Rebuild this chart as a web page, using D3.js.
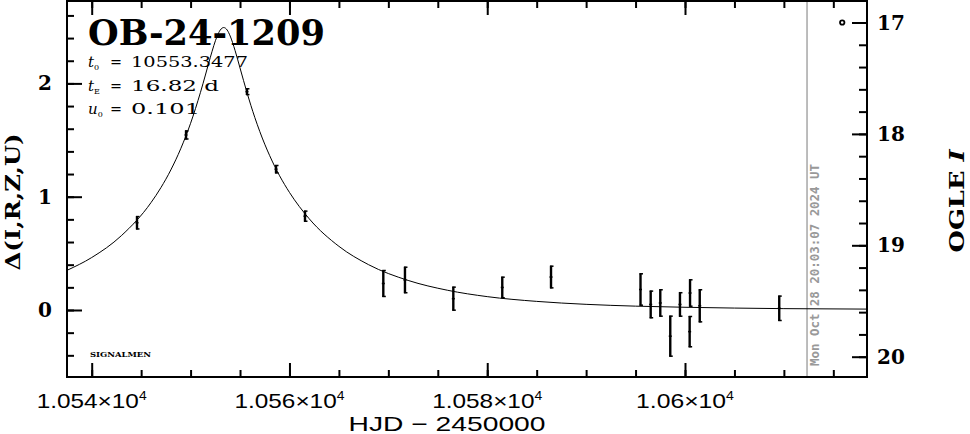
<!DOCTYPE html>
<html><head><meta charset="utf-8">
<script src="https://cdn.jsdelivr.net/npm/d3@7"></script>
<style>body{margin:0;background:#fff;} svg{display:block;}</style>
</head><body><svg id="c" width="970" height="434"></svg>
<script>
// ---- data ----
const hjd = [10544.58, 10549.54, 10555.70, 10558.64, 10561.57, 10569.49, 10571.68, 10576.57, 10581.52, 10586.45,
             10595.50, 10596.53, 10597.50, 10598.51, 10599.49, 10600.51, 10600.47, 10601.49, 10609.53];
const delta = [0.77, 1.545, 1.927, 1.243, 0.828, 0.234, 0.265, 0.10, 0.199, 0.291,
               0.181, 0.049, 0.062, -0.231, 0.049, 0.15, -0.191, 0.037, 0.015];
const deltaErr = [0.059, 0.04, 0.03, 0.037, 0.049, 0.119, 0.117, 0.106, 0.095, 0.10,
                  0.143, 0.122, 0.121, 0.181, 0.108, 0.121, 0.138, 0.146, 0.112];
const modelT = [10537.5, 10540, 10543, 10546, 10547, 10548, 10549, 10550, 10551, 10551.5, 10552, 10552.7, 10553,
                10553.35, 10553.7, 10554, 10554.5, 10555, 10555.7, 10556.5, 10557, 10558, 10559, 10560, 10562,
                10565, 10568, 10572, 10576, 10580, 10585, 10590, 10595, 10600, 10605, 10610, 10618.4];
const modelDelta = [0.350, 0.463, 0.656, 0.948, 1.080, 1.236, 1.423, 1.648, 1.921, 2.074, 2.231, 2.420, 2.471,
                    2.493, 2.471, 2.419, 2.290, 2.136, 1.920, 1.698, 1.575, 1.362, 1.185, 1.038, 0.805,
                    0.562, 0.400, 0.261, 0.174, 0.118, 0.076, 0.050, 0.034, 0.024, 0.017, 0.012, 0.008];
const baseMarkT = [10615.9];
const baseMarkMag = [17.0];
const nowHJD = 10612.34;
const nowLabel = "Mon Oct 28 20:03:07 2024 UT";
const xMajor = [10540, 10560, 10580, 10600];
const xMajorLabels = ["1.054", "1.056", "1.058", "1.06"];
const xMinor = [10540,10545,10550,10555,10560,10565,10570,10575,10580,10585,10590,10595,10600,10605,10610,10615];
const yMajor = [0, 1, 2];
const yMajorLabels = ["0", "1", "2"];
const yMinor = [-0.4,-0.2,0,0.2,0.4,0.6,0.8,1,1.2,1.4,1.6,1.8,2,2.2,2.4,2.6];
const magMajor = [17, 18, 19, 20];
const magMajorLabels = ["17", "18", "19", "20"];
const magMinor = [17,17.2,17.4,17.6,17.8,18,18.2,18.4,18.6,18.8,19,19.2,19.4,19.6,19.8,20];
const eventName = "OB-24-1209";
const paramNames = [["t", "0"], ["t", "E"], ["u", "0"]];
const paramValues = ["10553.3477", "16.82 d", "0.101"];

// ---- layout ----
const L = 67, R = 867, T = 1, B = 377;
const x = d3.scaleLinear().domain([10540, 10600]).range([91.7, 685]);
const y = d3.scaleLinear().domain([0, 2]).range([310, 83.4]);
const ym = d3.scaleLinear().domain([17, 20]).range([22.5, 356.7]);

const svg = d3.select("#c");
svg.append("rect").attr("width", 970).attr("height", 434).attr("fill", "#fff");

svg.append("defs").append("clipPath").attr("id", "clip")
  .append("rect").attr("x", L).attr("y", T).attr("width", R - L).attr("height", B - T);

// ticks via d3 axes (inward)
function axisG(axis, tx, ty) {
  const g = svg.append("g").attr("transform", `translate(${tx},${ty})`).call(axis);
  g.select(".domain").remove();
  g.selectAll("line").attr("stroke", "#000").attr("stroke-width", 2);
  g.selectAll("text").remove();
  return g;
}
axisG(d3.axisTop(x).tickValues(xMinor).tickSize(7), 0, B);
axisG(d3.axisTop(x).tickValues(xMajor).tickSize(14), 0, B);
axisG(d3.axisBottom(x).tickValues(xMinor).tickSize(7), 0, T);
axisG(d3.axisBottom(x).tickValues(xMajor).tickSize(14), 0, T);
axisG(d3.axisRight(y).tickValues(yMinor).tickSize(7), L, 0);
axisG(d3.axisRight(y).tickValues(yMajor).tickSize(15), L, 0);
axisG(d3.axisLeft(ym).tickValues(magMinor).tickSize(8), R, 0);
axisG(d3.axisLeft(ym).tickValues(magMajor).tickSize(15), R, 0);

// now line
svg.append("line").attr("x1", x(nowHJD)).attr("x2", x(nowHJD)).attr("y1", T).attr("y2", B)
  .attr("stroke", "#999").attr("stroke-width", 1.3);
svg.append("text").attr("transform", `translate(${x(nowHJD) + 12},${B - 11}) rotate(-90)`)
  .attr("font-family", "DejaVu Sans Mono, monospace").attr("font-weight", "bold")
  .attr("font-size", 11.5).attr("fill", "#999").attr("textLength", 202).attr("lengthAdjust", "spacingAndGlyphs")
  .text(nowLabel);

// model curve
const plot = svg.append("g").attr("clip-path", "url(#clip)");
const line = d3.line().x((d, i) => x(modelT[i])).y((d, i) => y(modelDelta[i])).curve(d3.curveMonotoneX);
plot.append("path").datum(modelT).attr("d", line).attr("fill", "none").attr("stroke", "#000").attr("stroke-width", 1);

// error bars
const pts = plot.append("g");
hjd.forEach((t, i) => {
  const cx = x(t), y1 = y(delta[i] + deltaErr[i]), y2 = y(delta[i] - deltaErr[i]), yc = y(delta[i]);
  pts.append("line").attr("x1", cx).attr("x2", cx).attr("y1", y1).attr("y2", y2).attr("stroke", "#000").attr("stroke-width", 2.4);
  pts.append("line").attr("x1", cx - 1).attr("x2", cx + 2.5).attr("y1", y1 + 0.5).attr("y2", y1 + 0.5).attr("stroke", "#000").attr("stroke-width", 1.5);
  pts.append("line").attr("x1", cx - 1).attr("x2", cx + 2.5).attr("y1", y2 - 0.5).attr("y2", y2 - 0.5).attr("stroke", "#000").attr("stroke-width", 1.5);
  pts.append("line").attr("x1", cx - 1.5).attr("x2", cx + 1.5).attr("y1", yc).attr("y2", yc).attr("stroke", "#000").attr("stroke-width", 1.5);
});

// baseline marker
svg.append("circle").attr("cx", x(baseMarkT[0])).attr("cy", ym(baseMarkMag[0])).attr("r", 2.2)
  .attr("fill", "none").attr("stroke", "#000").attr("stroke-width", 1.8);

// frame
svg.append("rect").attr("x", L).attr("y", T).attr("width", R - L).attr("height", B - T)
  .attr("fill", "none").attr("stroke", "#000").attr("stroke-width", 2);

// title & params
const serif = "DejaVu Serif, serif";
svg.append("text").attr("x", 88).attr("y", 45).attr("font-family", serif).attr("font-weight", "bold")
  .attr("font-size", 35).attr("textLength", 237).attr("lengthAdjust", "spacingAndGlyphs").text(eventName);
const paramY = [67, 91, 114];
const paramW = [117, 88, 69];
paramNames.forEach((nm, i) => {
  const t = svg.append("text").attr("x", 88).attr("y", paramY[i]).attr("font-family", serif).attr("font-size", 15);
  t.append("tspan").attr("font-style", "italic").text(nm[0]);
  t.append("tspan").attr("font-size", 8).attr("dy", 3).text(nm[1]);
  svg.append("text").attr("x", 110).attr("y", paramY[i]).attr("font-family", serif).attr("font-size", 15)
    .attr("textLength", 12).attr("lengthAdjust", "spacingAndGlyphs").text("=");
  svg.append("text").attr("x", 131).attr("y", paramY[i]).attr("font-family", serif).attr("font-size", 15)
    .attr("textLength", paramW[i]).attr("lengthAdjust", "spacingAndGlyphs").text(paramValues[i]);
});

svg.append("text").attr("x", 90).attr("y", 357).attr("font-family", serif).attr("font-weight", "bold")
  .attr("font-size", 8).attr("textLength", 61).attr("lengthAdjust", "spacingAndGlyphs").text("SIGNALMEN");

// tick labels
const lab = svg.append("g").attr("font-family", serif).attr("font-weight", "bold").attr("font-size", 20);
yMajor.forEach((v, i) => lab.append("text").attr("x", 45).attr("y", y(v) + 7).attr("text-anchor", "middle").text(yMajorLabels[i]));
magMajor.forEach((v, i) => lab.append("text").attr("x", 891).attr("y", ym(v) + 7).attr("text-anchor", "middle").text(magMajorLabels[i]));

const xl = svg.append("g").attr("font-family", "Liberation Sans, sans-serif").attr("font-size", 21);
xMajor.forEach((v, i) => {
  const t = xl.append("text").attr("x", x(v)).attr("y", 408).attr("text-anchor", "middle")
    .attr("textLength", xMajorLabels[i].length > 4 ? 110 : 98).attr("lengthAdjust", "spacingAndGlyphs");
  t.append("tspan").text(xMajorLabels[i] + "×10");
  t.append("tspan").attr("font-size", 12).attr("dy", -8).text("4");
});
svg.append("text").attr("x", 447).attr("y", 431).attr("text-anchor", "middle")
  .attr("font-family", "Liberation Sans, sans-serif").attr("font-size", 21)
  .attr("textLength", 197).attr("lengthAdjust", "spacingAndGlyphs").text("HJD − 2450000");

svg.append("text").attr("transform", "translate(20,202) rotate(-90)").attr("text-anchor", "middle")
  .attr("font-family", serif).attr("font-weight", "bold").attr("font-size", 20)
  .attr("textLength", 137).attr("lengthAdjust", "spacingAndGlyphs").text("Δ(I,R,Z,U)");
const ol = svg.append("text").attr("transform", "translate(964,201) rotate(-90)").attr("text-anchor", "middle")
  .attr("font-family", serif).attr("font-weight", "bold").attr("font-size", 20)
  .attr("textLength", 103).attr("lengthAdjust", "spacingAndGlyphs");
ol.append("tspan").text("OGLE ");
ol.append("tspan").attr("font-style", "italic").text("I");
</script></body></html>
